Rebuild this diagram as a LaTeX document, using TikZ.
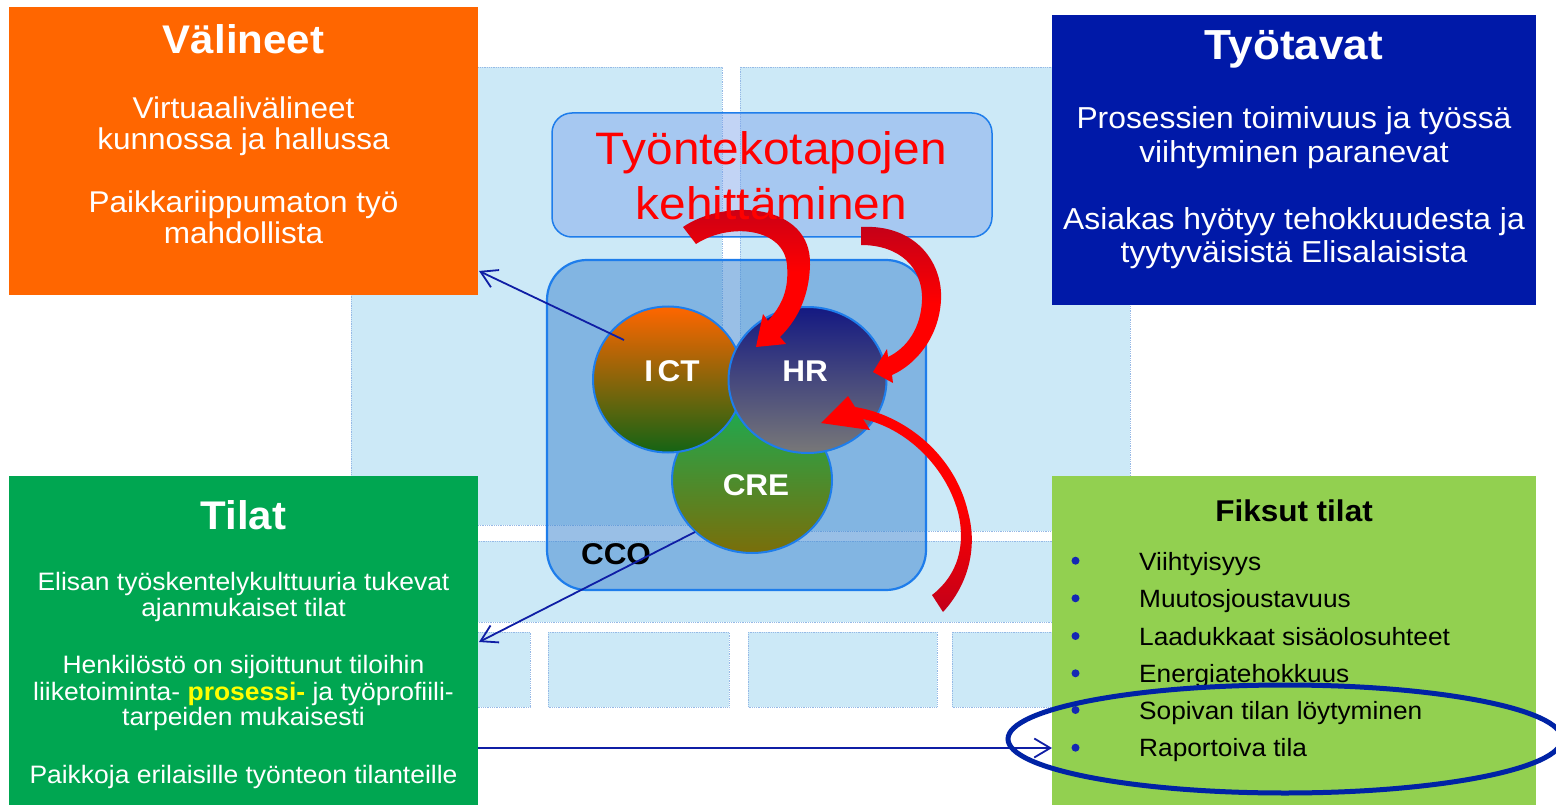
\documentclass[tikz,border=0pt]{standalone}
\usepackage{fontspec}
\setmainfont{Liberation Sans}[FakeStretch=1.05]
\usetikzlibrary{arrows.meta,shapes.geometric}
\definecolor{cOrange}{RGB}{255,102,0}
\definecolor{cNavy}{RGB}{0,25,168}
\definecolor{cGreen}{RGB}{0,166,81}
\definecolor{cLime}{RGB}{146,208,80}
\definecolor{cBg}{RGB}{204,233,247}
\definecolor{cBgEdge}{RGB}{150,185,230}
\definecolor{cCCO}{RGB}{70,140,210}
\definecolor{cEdge}{RGB}{30,125,235}
\definecolor{cTop}{RGB}{120,160,235}
\definecolor{cConn}{RGB}{15,30,165}
\definecolor{cRing}{RGB}{0,35,165}
\definecolor{cRed}{RGB}{255,0,0}
\definecolor{cDark}{RGB}{195,0,25}
\definecolor{cYel}{RGB}{255,255,0}
\definecolor{cBullet}{RGB}{20,40,180}
\definecolor{ictTop}{RGB}{255,102,0}
\definecolor{ictBot}{RGB}{20,100,20}
\definecolor{hrTop}{RGB}{20,25,130}
\definecolor{hrBot}{RGB}{120,120,120}
\definecolor{creTop}{RGB}{30,170,80}
\definecolor{creBot}{RGB}{122,110,10}
\newcommand{\myfs}[1]{\fontsize{#1}{#1}\selectfont}
\begin{document}
\begin{tikzpicture}[x=1pt,y=-1pt,
  bgr/.style={fill=cBg, draw=cBgEdge, densely dotted, line width=0.8pt},
  bigbox/.style={rectangle, inner sep=0pt, anchor=north west, draw=none},
  t/.style={inner sep=0pt, anchor=base, text=white},
  tl/.style={inner sep=0pt, anchor=base west, text=black},
  conn/.style={draw=cConn, line width=1.8pt, -{Straight Barb[length=16pt,width=19pt,line width=1.8pt]}},
  circ/.style={ellipse, draw=cEdge, line width=2pt, inner sep=0pt},
  bul/.style={circle, fill=cBullet, inner sep=0pt, minimum size=8pt},
]
\useasboundingbox (0,0) rectangle (1556,805);
\fill[white] (0,0) rectangle (1556,805);

% background pattern panels
\path[bgr] (351,67) rectangle (722,525);
\path[bgr] (740,67) rectangle (1130,531);
\path[bgr] (351,541) rectangle (1130,622);
\path[bgr] (351,632) rectangle (530,707);
\path[bgr] (548,632) rectangle (729,707);
\path[bgr] (748,632) rectangle (937,707);
\path[bgr] (952,632) rectangle (1130,707);

% big boxes
\node[bigbox, fill=cOrange, minimum width=469pt, minimum height=288pt] (valineet) at (9,7) {};
\node[bigbox, fill=cNavy, minimum width=484pt, minimum height=290pt] (tyotavat) at (1052,15) {};
\node[bigbox, fill=cGreen, minimum width=469pt, minimum height=329pt] (tilat) at (9,476) {};
\node[bigbox, fill=cLime, minimum width=484pt, minimum height=329pt] (fiksut) at (1052,476) {};

% CCO box
\draw[fill=cCCO, fill opacity=0.55, draw=cEdge, line width=2.2pt, rounded corners=40pt] (547,260) rectangle (926,590);

% circles
\node[circ, top color=creTop, bottom color=creBot, minimum width=160pt, minimum height=146pt] (cre) at (752,480) {};
\node[circ, top color=ictTop, bottom color=ictBot, minimum width=150pt, minimum height=146pt] (ict) at (668,379.5) {};
\node[circ, top color=hrTop, bottom color=hrBot, minimum width=158pt, minimum height=146pt] (hr) at (807.5,380) {};

\node[t, font=\myfs{30}\bfseries] (ictl) at (672,381.7) {I\kern4.5pt CT};
\node[t, font=\myfs{30}\bfseries] (hrl) at (805,381.7) {HR};
\node[t, font=\myfs{30}\bfseries] (crel) at (756,495) {CRE};
\node[t, text=black, font=\myfs{30}\bfseries] (ccol) at (616,564) {CCO};

% top rounded box
\draw[fill=cTop, fill opacity=0.45, draw=cEdge, line width=1.5pt, rounded corners=20pt] (552,113) rectangle (992,237);

% red curved arrows
\shade[top color=cDark, bottom color=cRed, middle color=cRed]
 (683,227) .. controls (725,198) and (812,203) .. (810,265)
 .. controls (809,300) and (795,322) .. (780,337)
 -- (786,344) -- (756,347) -- (763,314) -- (768,321)
 .. controls (782,305) and (789,290) .. (787,265)
 .. controls (784,228) and (730,222) .. (696,244) -- cycle;
\shade[top color=cDark, bottom color=cRed, middle color=cRed]
 (861,227) .. controls (915,224) and (943,262) .. (941,300)
 .. controls (939,338) and (915,365) .. (892,375)
 -- (893,383) -- (873,372) -- (887,349) -- (888,357)
 .. controls (907,348) and (921,328) .. (922,300)
 .. controls (923,268) and (900,245) .. (861,245) -- cycle;
\shade[top color=cRed, bottom color=cDark, middle color=cRed]
 (943,612) .. controls (968,585) and (978,548) .. (968,512)
 .. controls (955,455) and (905,415) .. (855,407)
 -- (848,396) -- (821,423) -- (870,430) -- (863,419)
 .. controls (905,428) and (945,465) .. (958,512)
 .. controls (966,545) and (958,575) .. (932,595) -- cycle;

% title text in the top box
\node[t, text=cRed, font=\myfs{45.5}] (tk1) at (771.3,165) {Työntekotapojen};
\node[t, text=cRed, font=\myfs{45.5}] (tk2) at (771.3,220) {kehittäminen};

% Välineet text
\node[t, font=\myfs{40}\bfseries] (vt) at (243.5,53.3) {Välineet};
\node[t, font=\myfs{30}] (v1) at (243.5,118.3) {Virtuaalivälineet};
\node[t, font=\myfs{30}] (v2) at (243.5,149.3) {kunnossa ja hallussa};
\node[t, font=\myfs{30}] (v3) at (243.5,212.7) {Paikkariippumaton työ};
\node[t, font=\myfs{30}] (v4) at (243.5,243.3) {mahdollista};

% Työtavat text
\node[t, font=\myfs{42}\bfseries] (tt) at (1294,59.3) {Työtavat};
\node[t, font=\myfs{30.3}] (t1) at (1294,128.3) {Prosessien toimivuus ja työssä};
\node[t, font=\myfs{30.3}] (t2) at (1294,162.3) {viihtyminen paranevat};
\node[t, font=\myfs{30.3}] (t3) at (1294,229.3) {Asiakas hyötyy tehokkuudesta ja};
\node[t, font=\myfs{30.3}] (t4) at (1294,262.7) {tyytyväisistä Elisalaisista};

% Tilat text
\node[t, font=\myfs{40}\bfseries] (tilt) at (243.5,529.3) {Tilat};
\node[t, font=\myfs{25.2}] (l1) at (243.5,590.7) {Elisan työskentelykulttuuria tukevat};
\node[t, font=\myfs{25.2}] (l2) at (243.5,616.7) {ajanmukaiset tilat};
\node[t, font=\myfs{25.2}] (l3) at (243.5,673.3) {Henkilöstö on sijoittunut tiloihin};
\node[t, font=\myfs{25.2}] (l4) at (243.5,700) {liiketoiminta- \textcolor{cYel}{\bfseries prosessi-} ja työprofiili-};
\node[t, font=\myfs{25.2}] (l5) at (243.5,725) {tarpeiden mukaisesti};
\node[t, font=\myfs{25.2}] (l6) at (243.5,783.3) {Paikkoja erilaisille työnteon tilanteille};

% Fiksut tilat text
\node[t, text=black, font=\myfs{30}\bfseries] (ft) at (1294,521.7) {Fiksut tilat};
\node[bul] (b1) at (1075.5,560.7) {};
\node[bul] (b2) at (1075.5,598.3) {};
\node[bul] (b3) at (1075.5,636) {};
\node[bul] (b4) at (1075.5,673.3) {};
\node[bul] (b5) at (1075.5,710) {};
\node[bul] (b6) at (1075.5,747.7) {};
\node[tl, font=\myfs{25}] (f1) at (1139,570) {Viihtyisyys};
\node[tl, font=\myfs{25}] (f2) at (1139,607.3) {Muutosjoustavuus};
\node[tl, font=\myfs{25}] (f3) at (1139,645.7) {Laadukkaat sisäolosuhteet};
\node[tl, font=\myfs{25}] (f4) at (1139,682.3) {Energiatehokkuus};
\node[tl, font=\myfs{25}] (f5) at (1139,719.3) {Sopivan tilan löytyminen};
\node[tl, font=\myfs{25}] (f6) at (1139,756.7) {Raportoiva tila};

% connectors
\coordinate (ictp) at (624,340);
\coordinate (vtip) at (479,271);
\coordinate (crep) at (695,532);
\coordinate (ttip) at (479,642);
\draw[conn] (ictp) -- (vtip);
\draw[conn] (crep) -- (ttip);
\draw[conn] (tilat.east |- 0,748) -- (fiksut.west |- 0,748);

% highlight ellipse
\draw[cRing, line width=5pt] (1285,739) ellipse [x radius=277, y radius=54];
\end{tikzpicture}
\end{document}
